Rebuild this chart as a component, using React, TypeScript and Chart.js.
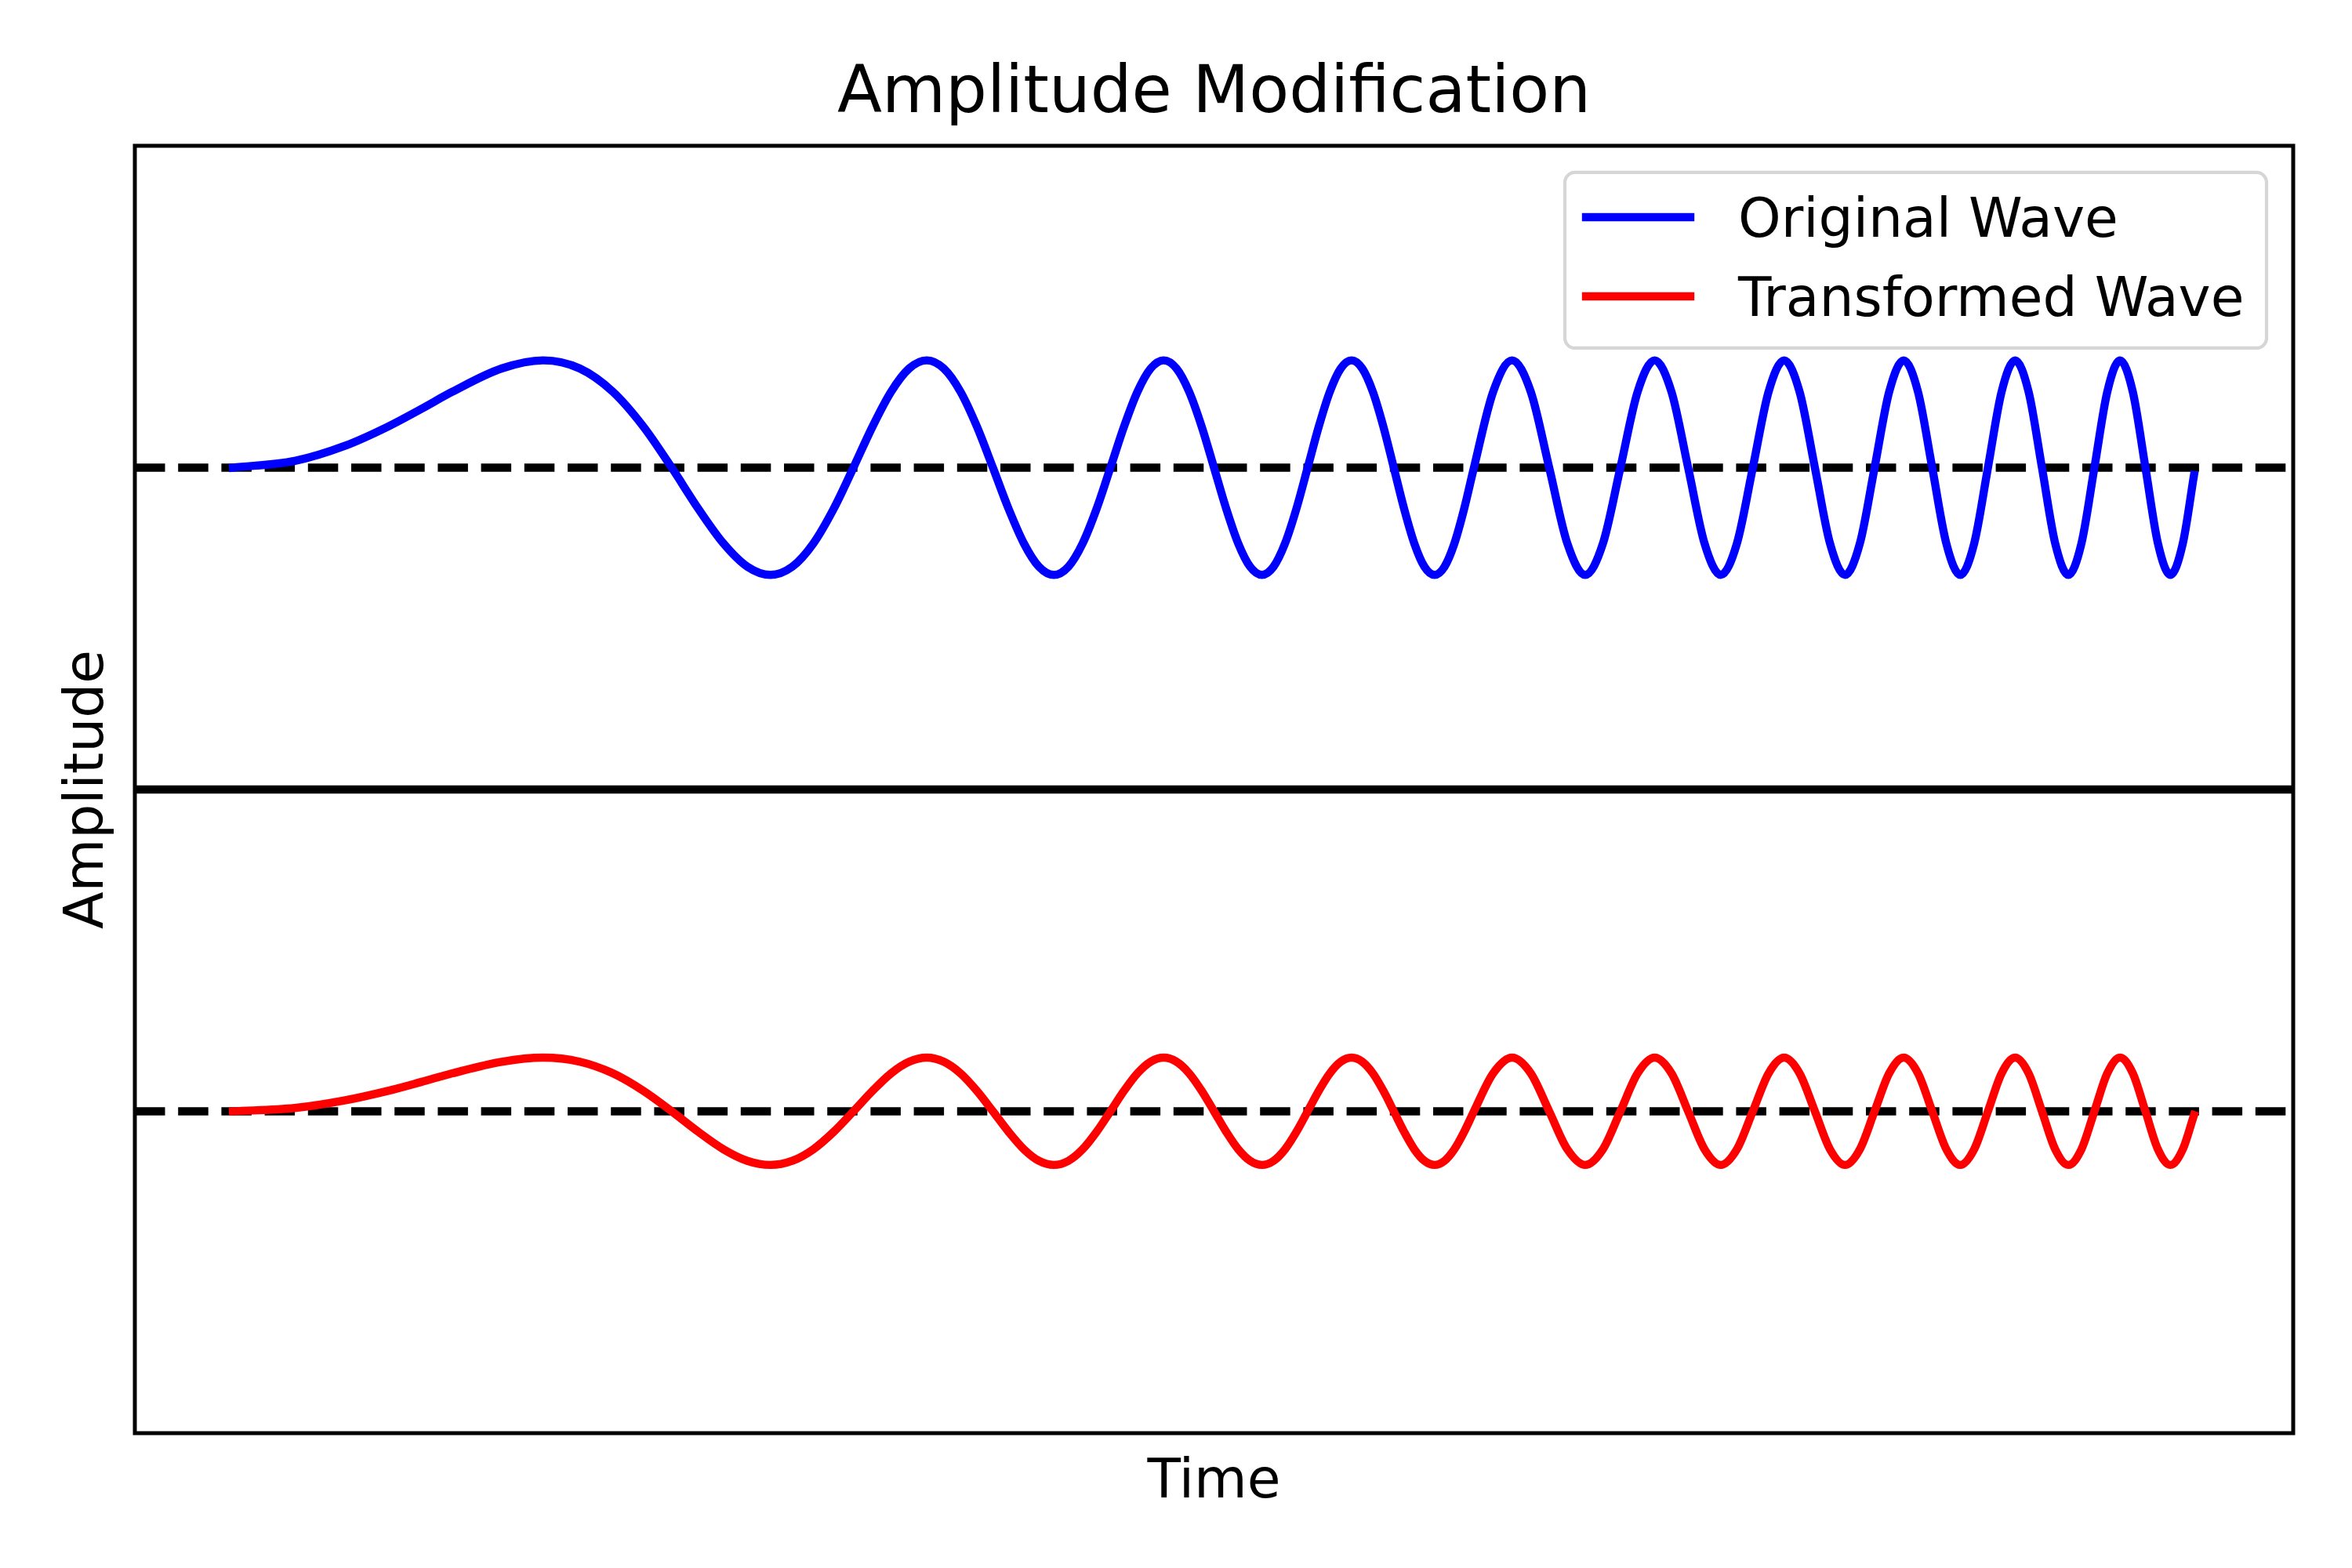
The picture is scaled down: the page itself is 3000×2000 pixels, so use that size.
import React, { useEffect, useRef } from "react";
import { Chart, registerables } from "chart.js";

Chart.register(...registerables);

const FONT = "'DejaVu Sans', 'Liberation Sans', sans-serif";

const TITLE = "Amplitude Modification";
const X_LABEL = "Time";
const Y_LABEL = "Amplitude";
const SERIES_NAMES = ["Original Wave", "Transformed Wave"];
const SERIES_COLORS = ["#0000ff", "#ff0000"];

// Time positions of points (extrema, zero crossings and in-between points)
const TIME = [
  0, 0.25, 0.45, 0.6267, 0.76,
  0.8862, 1.0854, 1.2533, 1.4012, 1.535, 1.658, 1.7725, 1.88, 1.9817, 2.0784, 2.1708, 2.2594, 2.3447, 2.427,
  2.5066, 2.5838, 2.6587, 2.7316, 2.8025, 2.8717, 2.9393, 3.0054, 3.07, 3.1333, 3.1954, 3.2562, 3.316, 3.3747, 3.4324, 3.4891,
  3.5449, 3.5999, 3.654, 3.7074, 3.7599, 3.8118, 3.863, 3.9135, 3.9633, 4.0126, 4.0612, 4.1093, 4.1568, 4.2037, 4.2502, 4.2962,
  4.3416, 4.3866, 4.4311, 4.4752, 4.5189, 4.5622, 4.605, 4.6474, 4.6895, 4.7312, 4.7725, 4.8134, 4.8541, 4.8943, 4.9343, 4.9739,
  5.0133, 5.091, 5.1675, 5.243, 5.3174, 5.3907, 5.4631, 5.5345,
  5.605, 5.6746, 5.7434, 5.8114, 5.8786, 5.945, 6.0107, 6.0757,
  6.14, 6.2036, 6.2666, 6.3289, 6.3907, 6.4518, 6.5124, 6.5724,
  6.6319, 6.6909, 6.7493, 6.8072, 6.8647, 6.9217, 6.9782, 7.0342,
  7.0898, 7.145, 7.1997, 7.2541, 7.308, 7.3616, 7.4147, 7.4675,
  7.5199, 7.572, 7.6236, 7.675, 7.726, 7.7766, 7.827, 7.877,
  7.9222,
];

const ORIGINAL = [
  3, 3.0625, 3.201, 3.383, 3.546,
  3.707, 3.924, 4, 3.924, 3.707, 3.383, 3, 2.617, 2.293, 2.076, 2, 2.076, 2.293, 2.617,
  3, 3.383, 3.707, 3.924, 4, 3.924, 3.707, 3.383, 3, 2.617, 2.293, 2.076, 2, 2.076, 2.293, 2.617,
  3, 3.383, 3.707, 3.924, 4, 3.924, 3.707, 3.383, 3, 2.617, 2.293, 2.076, 2, 2.076, 2.293, 2.617,
  3, 3.383, 3.707, 3.924, 4, 3.924, 3.707, 3.383, 3, 2.617, 2.293, 2.076, 2, 2.076, 2.293, 2.617,
  3, 3.707, 4, 3.707, 3, 2.293, 2, 2.293,
  3, 3.707, 4, 3.707, 3, 2.293, 2, 2.293,
  3, 3.707, 4, 3.707, 3, 2.293, 2, 2.293,
  3, 3.707, 4, 3.707, 3, 2.293, 2, 2.293,
  3, 3.707, 4, 3.707, 3, 2.293, 2, 2.293,
  3, 3.707, 4, 3.707, 3, 2.293, 2, 2.293,
  2.93,
];

const TRANSFORMED = [
  -3, -2.969, -2.899, -2.809, -2.727,
  -2.646, -2.538, -2.5, -2.538, -2.646, -2.809, -3, -3.191, -3.354, -3.462, -3.5, -3.462, -3.354, -3.191,
  -3, -2.809, -2.646, -2.538, -2.5, -2.538, -2.646, -2.809, -3, -3.191, -3.354, -3.462, -3.5, -3.462, -3.354, -3.191,
  -3, -2.809, -2.646, -2.538, -2.5, -2.538, -2.646, -2.809, -3, -3.191, -3.354, -3.462, -3.5, -3.462, -3.354, -3.191,
  -3, -2.809, -2.646, -2.538, -2.5, -2.538, -2.646, -2.809, -3, -3.191, -3.354, -3.462, -3.5, -3.462, -3.354, -3.191,
  -3, -2.646, -2.5, -2.646, -3, -3.354, -3.5, -3.354,
  -3, -2.646, -2.5, -2.646, -3, -3.354, -3.5, -3.354,
  -3, -2.646, -2.5, -2.646, -3, -3.354, -3.5, -3.354,
  -3, -2.646, -2.5, -2.646, -3, -3.354, -3.5, -3.354,
  -3, -2.646, -2.5, -2.646, -3, -3.354, -3.5, -3.354,
  -3, -2.646, -2.5, -2.646, -3, -3.354, -3.5, -3.354,
  -3.035,
];

const ORIGINAL_BASELINE = 3;
const TRANSFORMED_BASELINE = -3;
const DIVIDER = 0;
const X_RANGE = [-0.3963, 8.323];
const Y_RANGE = [-6, 6];

const LW = 10.4;
const LABEL_SIZE = 69.5;

const framePlugin = {
  id: "mplFrame",
  afterDatasetsDraw(chart: any) {
    const { ctx, chartArea } = chart;
    ctx.save();
    ctx.strokeStyle = "#000";
    ctx.lineWidth = 5;
    ctx.strokeRect(chartArea.left, chartArea.top, chartArea.right - chartArea.left, chartArea.bottom - chartArea.top);
    ctx.restore();
  },
};

const legendPlugin = {
  id: "mplLegend",
  afterDraw(chart: any) {
    const { ctx, chartArea } = chart;
    const w = 895;
    const h = 224;
    const x = chartArea.right - 34 - w;
    const y = chartArea.top + 34;
    const r = 13;
    ctx.save();
    ctx.beginPath();
    ctx.moveTo(x + r, y);
    ctx.lineTo(x + w - r, y);
    ctx.arcTo(x + w, y, x + w, y + r, r);
    ctx.lineTo(x + w, y + h - r);
    ctx.arcTo(x + w, y + h, x + w - r, y + h, r);
    ctx.lineTo(x + r, y + h);
    ctx.arcTo(x, y + h, x, y + h - r, r);
    ctx.lineTo(x, y + r);
    ctx.arcTo(x, y, x + r, y, r);
    ctx.closePath();
    ctx.fillStyle = "rgba(255,255,255,0.8)";
    ctx.fill();
    ctx.strokeStyle = "rgba(204,204,204,0.8)";
    ctx.lineWidth = 4.2;
    ctx.stroke();

    const rows = [y + 57, y + 158];
    SERIES_NAMES.forEach((name, i) => {
      const ly = rows[i];
      ctx.beginPath();
      ctx.strokeStyle = SERIES_COLORS[i];
      ctx.lineWidth = LW;
      ctx.lineCap = "square";
      ctx.moveTo(x + 27, ly);
      ctx.lineTo(x + 160, ly);
      ctx.stroke();
      ctx.fillStyle = "#000";
      ctx.font = `${LABEL_SIZE}px ${FONT}`;
      ctx.textAlign = "left";
      ctx.textBaseline = "alphabetic";
      ctx.fillText(name, x + 221, ly + 25);
    });
    ctx.restore();
  },
};

export default function App() {
  const ref = useRef<HTMLCanvasElement>(null);

  useEffect(() => {
    const canvas = ref.current;
    if (!canvas) return;
    const wave = (ys: number[]) => TIME.map((t, i) => ({ x: t, y: ys[i] }));
    const hline = (yv: number) => [
      { x: X_RANGE[0], y: yv },
      { x: X_RANGE[1], y: yv },
    ];
    const waveStyle = {
      borderWidth: LW,
      pointRadius: 0,
      cubicInterpolationMode: "monotone" as const,
      borderCapStyle: "square" as const,
      borderJoinStyle: "round" as const,
      fill: false,
      order: 0,
    };
    const chart = new Chart(canvas, {
      type: "line",
      data: {
        datasets: [
          { label: SERIES_NAMES[0], data: wave(ORIGINAL), borderColor: SERIES_COLORS[0], ...waveStyle },
          { label: SERIES_NAMES[1], data: wave(TRANSFORMED), borderColor: SERIES_COLORS[1], ...waveStyle },
          {
            label: "baseline-original",
            data: hline(ORIGINAL_BASELINE),
            borderColor: "#000",
            borderWidth: LW,
            borderDash: [38.5, 16.7],
            borderCapStyle: "butt",
            pointRadius: 0,
            order: 1,
          },
          {
            label: "baseline-transformed",
            data: hline(TRANSFORMED_BASELINE),
            borderColor: "#000",
            borderWidth: LW,
            borderDash: [38.5, 16.7],
            borderCapStyle: "butt",
            pointRadius: 0,
            order: 1,
          },
          {
            label: "divider",
            data: hline(DIVIDER),
            borderColor: "#000",
            borderWidth: LW,
            pointRadius: 0,
            order: 2,
          },
        ],
      },
      options: {
        responsive: false,
        animation: false,
        devicePixelRatio: 1,
        layout: { padding: { left: 0, right: 75, top: 0, bottom: 0 } },
        scales: {
          x: {
            type: "linear",
            min: X_RANGE[0],
            max: X_RANGE[1],
            grid: { display: false, drawTicks: false },
            border: { display: false },
            ticks: { display: false },
            title: {
              display: true,
              text: X_LABEL,
              color: "#000",
              font: { family: FONT, size: LABEL_SIZE, weight: "normal" },
              padding: { top: 21.8, bottom: 66.8 },
            },
          },
          y: {
            type: "linear",
            min: Y_RANGE[0],
            max: Y_RANGE[1],
            grid: { display: false, drawTicks: false },
            border: { display: false },
            ticks: { display: false },
            title: {
              display: true,
              text: Y_LABEL,
              color: "#000",
              font: { family: FONT, size: LABEL_SIZE, weight: "normal" },
              padding: { top: 70.9, bottom: 17.7 },
            },
          },
        },
        plugins: {
          legend: { display: false },
          tooltip: { enabled: false },
          title: {
            display: true,
            text: TITLE,
            fullSize: false,
            color: "#000",
            font: { family: FONT, size: 83.3, weight: "normal" },
            padding: { top: 71.6, bottom: 14.4 },
          },
        },
      } as any,
      plugins: [framePlugin, legendPlugin],
    });
    return () => chart.destroy();
  }, []);

  return (
    <div style={{ position: "fixed", left: 0, top: 0, width: 3000, height: 2000, background: "#fff" }}>
      <canvas ref={ref} width={3000} height={2000} style={{ width: 3000, height: 2000, display: "block" }} />
    </div>
  );
}
